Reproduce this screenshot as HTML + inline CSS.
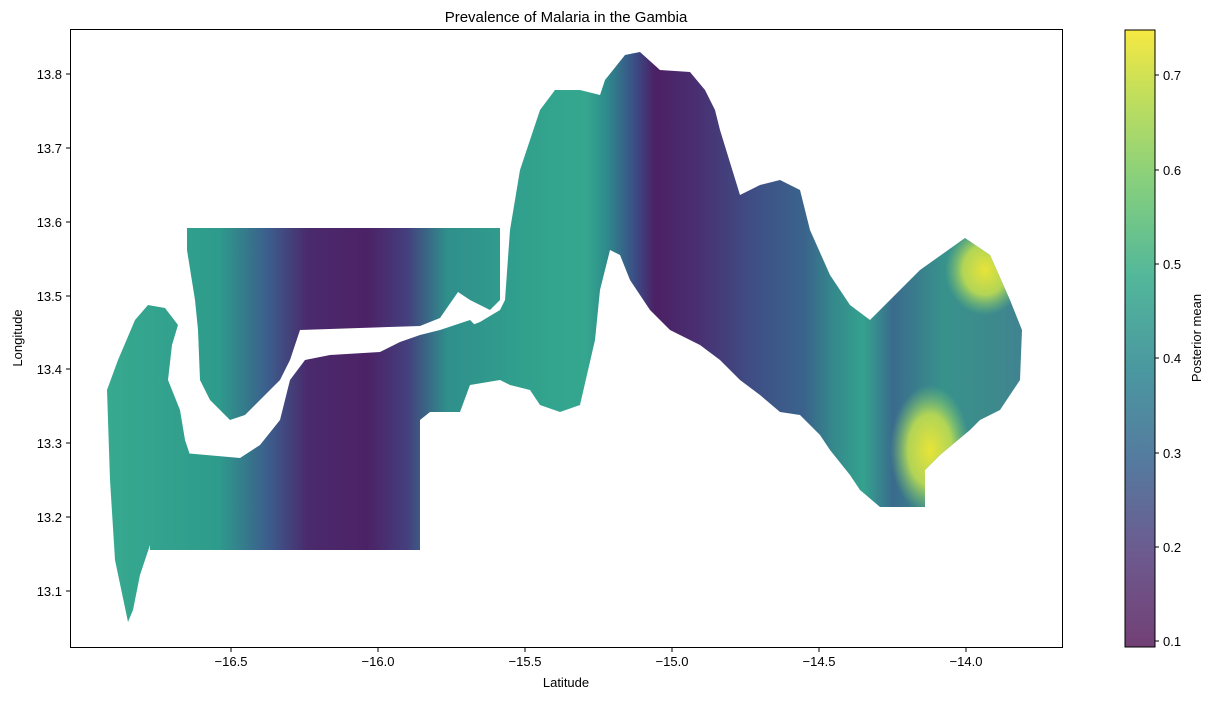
<!DOCTYPE html>
<html><head><meta charset="utf-8"><style>
body{margin:0;background:#fff;}
svg text{font-family:"Liberation Sans","DejaVu Sans",sans-serif;fill:#000;}
</style></head><body>
<svg width="1216" height="699" viewBox="0 0 1216 699" xmlns="http://www.w3.org/2000/svg">
<defs>
<linearGradient id="g" gradientUnits="userSpaceOnUse" x1="70" y1="0" x2="1062" y2="0">
<stop offset="0" stop-color="#3aae90"/>
<stop offset="0.15" stop-color="#2e9b8c"/>
<stop offset="0.2" stop-color="#3c5d8c"/>
<stop offset="0.24" stop-color="#4a2a6c"/>
<stop offset="0.3" stop-color="#4c2266"/>
<stop offset="0.34" stop-color="#443f7e"/>
<stop offset="0.38" stop-color="#2f8f8c"/>
<stop offset="0.46" stop-color="#31a18d"/>
<stop offset="0.52" stop-color="#35a78e"/>
<stop offset="0.54" stop-color="#2d8d8c"/>
<stop offset="0.57" stop-color="#3b4c86"/>
<stop offset="0.59" stop-color="#4c2064"/>
<stop offset="0.63" stop-color="#492e71"/>
<stop offset="0.69" stop-color="#3f4f86"/>
<stop offset="0.74" stop-color="#3a638c"/>
<stop offset="0.77" stop-color="#35898c"/>
<stop offset="0.8" stop-color="#34a28e"/>
<stop offset="0.83" stop-color="#3a6b8d"/>
<stop offset="0.88" stop-color="#38928c"/>
<stop offset="0.93" stop-color="#3d8a8c"/>
<stop offset="1" stop-color="#447a9a"/>
</linearGradient>
<radialGradient id="y"><stop offset="0" stop-color="#e8e438"/><stop offset="0.55" stop-color="#bfdd50" stop-opacity="0.9"/><stop offset="1" stop-color="#7fcf70" stop-opacity="0"/></radialGradient>
<linearGradient id="cb" x1="0" y1="1" x2="0" y2="0">
<stop offset="0" stop-color="#724075"/>
<stop offset="0.15" stop-color="#6d5a8f"/>
<stop offset="0.3" stop-color="#557a9f"/>
<stop offset="0.45" stop-color="#4a98a0"/>
<stop offset="0.6" stop-color="#52b79a"/>
<stop offset="0.75" stop-color="#85cf7e"/>
<stop offset="0.9" stop-color="#c4df5a"/>
<stop offset="1" stop-color="#f6e842"/>
</linearGradient>
<clipPath id="cl"><path id="rp" d="M420,345 L480,322 L500,310 L505,300 L510,230 L520,170 L540,110 L555,90 L580,90 L600,95 L605,80 L625,55 L640,52 L660,70 L690,72 L705,90 L715,110 L720,130 L740,195 L760,185 L780,180 L800,190 L810,230 L830,275 L850,305 L870,320 L890,300 L920,270 L965,238 L990,255 L1010,300 L1022,330 L1020,380 L1000,410 L980,420 L970,430 L940,455 L925,470 L925,507 L880,507 L860,490 L850,475 L830,450 L820,435 L800,415 L780,412 L760,395 L740,380 L720,360 L700,345 L670,330 L650,310 L630,280 L620,255 L610,250 L600,290 L595,340 L580,405 L560,412 L540,405 L530,390 L510,385 L500,380 L470,385 L460,412 L430,412 L420,420 Z"/></clipPath>
</defs>
<text x="566" y="22" font-size="15" text-anchor="middle">Prevalence of Malaria in the Gambia</text>
<g fill="url(#g)">
<path d="M128,622 L115,560 L110,480 L107,390 L118,360 L135,320 L148,305 L165,308 L178,325 L172,345 L168,380 L180,410 L185,440 L190,455 L155,470 L150,545 L140,575 L133,610 Z"/>
<path d="M150,450 L240,458 L260,445 L280,420 L290,380 L305,360 L330,355 L380,352 L400,342 L420,335 L440,330 L470,320 L480,330 L470,345 L450,345 L420,355 L420,550 L150,550 Z"/>
<path d="M187,228 L500,228 L500,300 L490,310 L470,300 L458,292 L440,318 L420,326 L300,330 L290,360 L280,380 L245,415 L230,420 L210,400 L200,380 L198,330 L195,300 L187,250 Z"/>
<path d="M420,345 L480,322 L500,310 L505,300 L510,230 L520,170 L540,110 L555,90 L580,90 L600,95 L605,80 L625,55 L640,52 L660,70 L690,72 L705,90 L715,110 L720,130 L740,195 L760,185 L780,180 L800,190 L810,230 L830,275 L850,305 L870,320 L890,300 L920,270 L965,238 L990,255 L1010,300 L1022,330 L1020,380 L1000,410 L980,420 L970,430 L940,455 L925,470 L925,507 L880,507 L860,490 L850,475 L830,450 L820,435 L800,415 L780,412 L760,395 L740,380 L720,360 L700,345 L670,330 L650,310 L630,280 L620,255 L610,250 L600,290 L595,340 L580,405 L560,412 L540,405 L530,390 L510,385 L500,380 L470,385 L460,412 L430,412 L420,420 Z"/>
</g>
<g clip-path="url(#cl)">
<ellipse cx="985" cy="270" rx="40" ry="45" fill="url(#y)"/>
<ellipse cx="930" cy="450" rx="40" ry="65" fill="url(#y)"/>
</g>
<rect x="70.5" y="29.5" width="992" height="618" fill="none" stroke="#000" stroke-width="1"/>
<g font-size="13" text-anchor="middle">
<g stroke="#000"><line x1="231" y1="648" x2="231" y2="652"/><line x1="378" y1="648" x2="378" y2="652"/><line x1="525" y1="648" x2="525" y2="652"/><line x1="672" y1="648" x2="672" y2="652"/><line x1="819" y1="648" x2="819" y2="652"/><line x1="966" y1="648" x2="966" y2="652"/></g>
<text x="231" y="666">−16.5</text><text x="378" y="666">−16.0</text><text x="525" y="666">−15.5</text><text x="672" y="666">−15.0</text><text x="819" y="666">−14.5</text><text x="966" y="666">−14.0</text>
<text x="566" y="687">Latitude</text>
</g>
<g font-size="13" text-anchor="end">
<g stroke="#000"><line x1="66" y1="74" x2="70" y2="74"/><line x1="66" y1="148" x2="70" y2="148"/><line x1="66" y1="222" x2="70" y2="222"/><line x1="66" y1="296" x2="70" y2="296"/><line x1="66" y1="369" x2="70" y2="369"/><line x1="66" y1="443" x2="70" y2="443"/><line x1="66" y1="517" x2="70" y2="517"/><line x1="66" y1="591" x2="70" y2="591"/></g>
<text x="62" y="79">13.8</text><text x="62" y="153">13.7</text><text x="62" y="227">13.6</text><text x="62" y="301">13.5</text><text x="62" y="374">13.4</text><text x="62" y="448">13.3</text><text x="62" y="522">13.2</text><text x="62" y="596">13.1</text>
</g>
<text transform="translate(22,338) rotate(-90)" font-size="13" text-anchor="middle">Longitude</text>
<rect x="1125" y="30" width="30" height="617" fill="url(#cb)" stroke="#000" stroke-width="1"/>
<g font-size="13">
<g stroke="#000"><line x1="1155" y1="641" x2="1159" y2="641"/><line x1="1155" y1="547" x2="1159" y2="547"/><line x1="1155" y1="453" x2="1159" y2="453"/><line x1="1155" y1="358" x2="1159" y2="358"/><line x1="1155" y1="264" x2="1159" y2="264"/><line x1="1155" y1="170" x2="1159" y2="170"/><line x1="1155" y1="75" x2="1159" y2="75"/></g>
<text x="1163" y="646">0.1</text><text x="1163" y="552">0.2</text><text x="1163" y="458">0.3</text><text x="1163" y="363">0.4</text><text x="1163" y="269">0.5</text><text x="1163" y="175">0.6</text><text x="1163" y="80">0.7</text>
</g>
<text transform="translate(1201,338) rotate(-90)" font-size="13" text-anchor="middle">Posterior mean</text>
</svg>
</body></html>
